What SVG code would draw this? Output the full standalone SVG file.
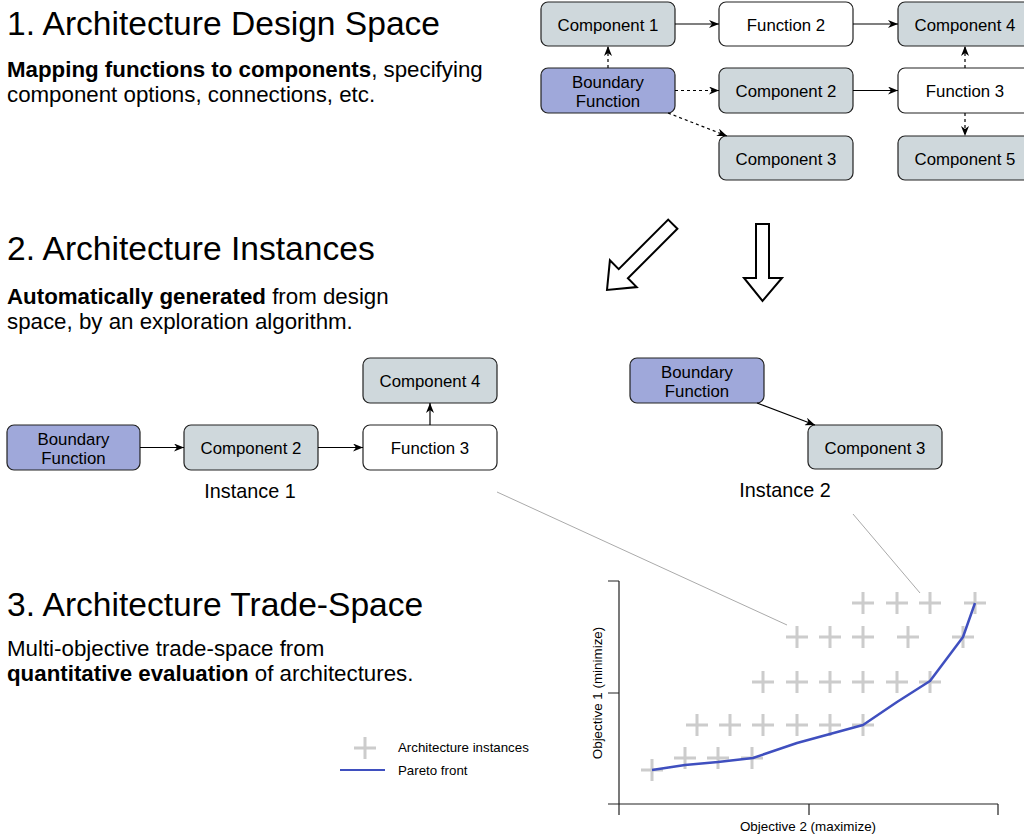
<svg xmlns="http://www.w3.org/2000/svg" width="1024" height="836" viewBox="0 0 1024 836">
<style>
  text { font-family: "Liberation Sans", Arial, sans-serif; fill: #000; }
  .title { font-size: 33.6px; }
  .body { font-size: 22.3px; }
  .b { font-weight: bold; }
  .nt { font-size: 16.8px; text-anchor: middle; }
  .inst { font-size: 19.8px; text-anchor: middle; }
  .ax { font-size: 13.4px; text-anchor: middle; }
  .leg { font-size: 13.3px; }
  .comp { fill: #cfd8dc; stroke: #222; stroke-width: 1.2; }
  .func { fill: #ffffff; stroke: #222; stroke-width: 1.2; }
  .bound { fill: #9fa8da; stroke: #222; stroke-width: 1.2; }
  .con { stroke: #000; stroke-width: 1.2; fill: none; marker-end: url(#ah); }
  .dash { stroke-dasharray: 3 3; }
  .hollow { fill: #fff; stroke: #000; stroke-width: 2; stroke-linejoin: miter; }
  .guide { stroke: #aaaaaa; stroke-width: 1; fill: none; }
  .cross { stroke: #cccccc; stroke-width: 3; fill: none; }
  .axis { stroke: #222; stroke-width: 1.2; fill: none; }
  .pareto { stroke: #3f4fbf; stroke-width: 2.5; fill: none; stroke-linejoin: round; }
</style>
<defs>
  <marker id="ah" viewBox="0 0 10 8" refX="10" refY="4" markerWidth="10" markerHeight="8" markerUnits="userSpaceOnUse" orient="auto">
    <path d="M0,0 L10,4 L0,8 L3,4 z" fill="#000"/>
  </marker>
  <path id="x" d="M-11,0 H11 M0,-11 V11"/>
</defs>

<g id="section-texts">
  <text class="title" x="7" y="35">1. Architecture Design Space</text>
  <text class="body" x="7" y="77"><tspan class="b">Mapping functions to components</tspan>, specifying</text>
  <text class="body" x="7" y="102">component options, connections, etc.</text>
  <text class="title" x="7" y="260">2. Architecture Instances</text>
  <text class="body" x="7" y="304"><tspan class="b">Automatically generated</tspan> from design</text>
  <text class="body" x="7" y="329">space, by an exploration algorithm.</text>
  <text class="title" x="7" y="616">3. Architecture Trade-Space</text>
  <text class="body" x="7" y="656">Multi-objective trade-space from</text>
  <text class="body" x="7" y="681"><tspan class="b">quantitative evaluation</tspan> of architectures.</text>
</g>

<!-- Design space nodes -->
<g id="ds-component1"><rect class="comp" x="541" y="2" width="134" height="44" rx="7"/><text class="nt" x="608" y="30.5">Component 1</text></g>
<g id="ds-function2"><rect class="func" x="719" y="2" width="134" height="44" rx="7"/><text class="nt" x="786" y="30.5">Function 2</text></g>
<g id="ds-component4"><rect class="comp" x="898" y="2" width="134" height="44" rx="7"/><text class="nt" x="965" y="30.5">Component 4</text></g>
<g id="ds-boundary"><rect class="bound" x="541" y="68" width="134" height="45" rx="7"/><text class="nt" x="608" y="88.3">Boundary</text><text class="nt" x="608" y="106.7">Function</text></g>
<g id="ds-component2"><rect class="comp" x="719" y="68" width="134" height="45" rx="7"/><text class="nt" x="786" y="97">Component 2</text></g>
<g id="ds-function3"><rect class="func" x="898" y="68" width="134" height="45" rx="7"/><text class="nt" x="965" y="97">Function 3</text></g>
<g id="ds-component3"><rect class="comp" x="719" y="136" width="134" height="44" rx="7"/><text class="nt" x="786" y="164.5">Component 3</text></g>
<g id="ds-component5"><rect class="comp" x="898" y="136" width="134" height="44" rx="7"/><text class="nt" x="965" y="164.5">Component 5</text></g>

<!-- Instance 1 nodes -->
<g id="i1-boundary"><rect class="bound" x="7" y="425" width="133" height="45" rx="7"/><text class="nt" x="73.5" y="445">Boundary</text><text class="nt" x="73.5" y="464">Function</text></g>
<g id="i1-component2"><rect class="comp" x="184" y="425" width="134" height="45" rx="7"/><text class="nt" x="251" y="454">Component 2</text></g>
<g id="i1-function3"><rect class="func" x="363" y="425" width="134" height="45" rx="7"/><text class="nt" x="430" y="454">Function 3</text></g>
<g id="i1-component4"><rect class="comp" x="363" y="358" width="134" height="45" rx="7"/><text class="nt" x="430" y="387">Component 4</text></g>
<g id="i1-label"><text class="inst" x="250" y="498">Instance 1</text></g>

<!-- Instance 2 nodes -->
<g id="i2-boundary"><rect class="bound" x="630" y="358" width="134" height="45" rx="7"/><text class="nt" x="697" y="378">Boundary</text><text class="nt" x="697" y="397">Function</text></g>
<g id="i2-component3"><rect class="comp" x="808" y="425" width="134" height="44" rx="7"/><text class="nt" x="875" y="453.5">Component 3</text></g>
<g id="i2-label"><text class="inst" x="785" y="497">Instance 2</text></g>

<!-- Connectors -->
<g id="connectors">
  <line class="con" x1="675" y1="24" x2="719" y2="24"/>
  <line class="con" x1="853" y1="24" x2="898" y2="24"/>
  <line class="con dash" x1="608" y1="68" x2="608" y2="46"/>
  <line class="con dash" x1="675" y1="90.5" x2="719" y2="90.5"/>
  <line class="con" x1="853" y1="90.5" x2="898" y2="90.5"/>
  <line class="con dash" x1="965" y1="68" x2="965" y2="46"/>
  <line class="con dash" x1="965" y1="113" x2="965" y2="136"/>
  <line class="con dash" x1="668" y1="113" x2="727" y2="136"/>

  <line class="con" x1="140" y1="447.5" x2="184" y2="447.5"/>
  <line class="con" x1="318" y1="447.5" x2="363" y2="447.5"/>
  <line class="con" x1="430" y1="425" x2="430" y2="403"/>

  <line class="con" x1="757" y1="403" x2="815" y2="425"/>

  <polygon class="hollow" points="668.2,219.6 677.4,228.8 627.9,278.3 636.7,287.1 607,290 609.9,260.3 618.7,269.1"/>
  <polygon class="hollow" points="756,224 769,224 769,278 782,278 762.5,301 744,278 756,278"/>

  <line class="guide" x1="497" y1="492" x2="787" y2="625"/>
  <line class="guide" x1="853" y1="514" x2="920" y2="593"/>
</g>

<!-- Trade-space plot -->
<g id="plot">
  <path class="axis" d="M619,581 V815 M608,581 H619 M608,693 H619 M608,804 H998 M809,804 V815 M998,804 V815"/>
  <text class="ax" x="808" y="831">Objective 2 (maximize)</text>
  <text class="ax" transform="translate(602,693) rotate(-90)">Objective 1 (minimize)</text>
  <g id="instances">
    <use href="#x" class="cross" x="863" y="603"/>
    <use href="#x" class="cross" x="897" y="603"/>
    <use href="#x" class="cross" x="930" y="603"/>
    <use href="#x" class="cross" x="975" y="603"/>
    <use href="#x" class="cross" x="797" y="637"/>
    <use href="#x" class="cross" x="830" y="637"/>
    <use href="#x" class="cross" x="863" y="637"/>
    <use href="#x" class="cross" x="908" y="637"/>
    <use href="#x" class="cross" x="963" y="637"/>
    <use href="#x" class="cross" x="763" y="682"/>
    <use href="#x" class="cross" x="797" y="682"/>
    <use href="#x" class="cross" x="830" y="682"/>
    <use href="#x" class="cross" x="863" y="682"/>
    <use href="#x" class="cross" x="897" y="682"/>
    <use href="#x" class="cross" x="930" y="682"/>
    <use href="#x" class="cross" x="697" y="725"/>
    <use href="#x" class="cross" x="730" y="725"/>
    <use href="#x" class="cross" x="763" y="725"/>
    <use href="#x" class="cross" x="797" y="725"/>
    <use href="#x" class="cross" x="830" y="725"/>
    <use href="#x" class="cross" x="863" y="725"/>
    <use href="#x" class="cross" x="685" y="758"/>
    <use href="#x" class="cross" x="718" y="758"/>
    <use href="#x" class="cross" x="752" y="758"/>
    <use href="#x" class="cross" x="652" y="770"/>
  </g>
  <polyline class="pareto" points="652,770 685,765 718,762 753,758 797,743 830,734 863,725 897,702 930,681 963,637 975,603"/>
</g>

<!-- Legend -->
<g id="legend">
  <use href="#x" class="cross" x="365" y="748"/>
  <line x1="340" y1="770" x2="385" y2="770" stroke="#3f4fbf" stroke-width="2"/>
  <text class="leg" x="398" y="752">Architecture instances</text>
  <text class="leg" x="398" y="775">Pareto front</text>
</g>
</svg>
